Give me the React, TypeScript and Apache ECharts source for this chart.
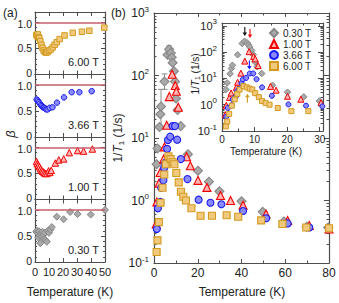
import React, { useEffect, useRef } from "react";
import * as echarts from "echarts";

const FONT = '"Liberation Sans", Arial, Helvetica, sans-serif';
const INK = "#222222";
const FRAME = "#4d4d4d";

// ---- fields ----
const fieldNames = ["0.30 T", "1.00 T", "3.66 T", "6.00 T"];
const panelOrder = ["6.00 T", "3.66 T", "1.00 T", "0.30 T"]; // (a) top to bottom

// ---- (a) stretching exponent beta vs temperature (K) ----
const beta600 = [[1.0,0.76],[1.5,0.74],[2.0,0.77],[2.5,0.72],[3.1,0.70],[3.8,0.64],[4.6,0.57],[5.4,0.51],[6.2,0.46],[7.1,0.43],[8.0,0.42],[9.0,0.43],[10.0,0.46],[11.2,0.48],[12.6,0.52],[14.0,0.57],[15.5,0.62],[17.6,0.68],[21.1,0.75],[27.0,0.80],[33.5,0.82],[38.8,0.84],[49.5,0.90]];
const beta366 = [[1.2,0.72],[2.0,0.70],[2.8,0.67],[3.5,0.64],[4.3,0.61],[5.0,0.59],[5.8,0.57],[6.5,0.56],[7.3,0.55],[8.1,0.53],[9.0,0.53],[10.5,0.56],[12.5,0.57],[15.7,0.66],[20.7,0.76],[26.2,0.86],[31.7,0.86],[40.5,0.88]];
const beta100 = [[1.1,0.73],[1.7,0.69],[2.4,0.66],[3.2,0.63],[4.0,0.59],[4.8,0.56],[5.6,0.54],[6.5,0.52],[7.3,0.50],[8.5,0.50],[9.7,0.55],[10.6,0.52],[11.6,0.56],[14.5,0.70],[17.0,0.76],[20.5,0.78],[24.5,0.90],[30.4,0.94],[34.7,0.93],[41.0,0.97]];
const beta030 = [[1.0,0.58],[1.5,0.60],[2.0,0.55],[2.4,0.47],[2.8,0.59],[3.3,0.52],[3.8,0.36],[4.3,0.56],[4.8,0.49],[5.3,0.58],[5.9,0.52],[6.5,0.44],[7.0,0.56],[7.6,0.42],[8.5,0.39],[9.2,0.60],[10.0,0.56],[11.0,0.62],[12.0,0.67],[15.6,0.87],[20.4,0.82],[25.1,0.96],[30.4,0.92],[39.8,0.91],[50.0,1.0]];

// ---- (b) 1/T1 (1/s) vs temperature (K) ----
const rate030 = [[1.2,3.8],[1.6,6.8],[2.5,15],[2.9,24],[3.2,32],[4.8,80],[6.2,215],[6.9,262],[7.7,230],[8.1,195],[8.5,160],[9.1,117],[9.6,80],[10.1,43],[10.8,28],[12.2,15.5],[15.5,5.5],[20.1,3.0],[25.1,2.0],[29.9,1.4],[40.0,0.97],[49.7,0.66],[59.4,0.46],[69.8,0.38],[79.6,0.37]];
const rate100 = [[1.0,0.42],[1.3,0.95],[2.3,1.9],[2.8,2.8],[4.4,4.6],[4.8,7.2],[5.8,16],[7.0,46],[8.3,105],[9.7,69],[10.2,56],[11.1,31],[14.9,5.0],[16.6,3.6],[20.1,2.1],[24.2,1.62],[30.4,1.2],[35.0,1.0],[40.7,0.84],[51.2,0.61],[61.1,0.48],[71.0,0.40],[80.0,0.35]];
const rate366 = [[1.3,0.35],[1.8,0.75],[2.9,0.95],[3.3,1.6],[4.3,2.1],[4.6,3.3],[5.2,4.0],[6.0,6.7],[6.4,9.3],[7.4,10.5],[8.5,15.5],[9.6,15.5],[10.6,9.4],[12.3,4.6],[15.3,2.2],[20.4,1.03],[25.8,0.92],[30.8,0.87],[40.7,0.68],[51.3,0.52],[61.1,0.43],[71.0,0.37],[80.2,0.33]];
const rate600 = [[1.2,0.15],[1.6,0.23],[2.2,0.45],[3.0,0.92],[3.9,1.6],[4.7,2.6],[5.4,3.8],[6.6,5.1],[7.6,4.6],[8.5,4.1],[9.3,3.8],[10.2,2.75],[11.3,1.95],[12.3,1.38],[13.4,1.15],[14.6,1.0],[17.1,0.75],[21.3,0.57],[26.5,0.57],[33.2,0.58],[38.5,0.55],[49.0,0.48],[58.7,0.42],[69.6,0.37],[80.0,0.36]];

// error bars of 0.30 T: [T, low, high]
const err030 = [[6.9,228,298],[4.8,60,106],[3.2,15,60]];

// inset arrows (T, 1/T1), pointing down except 6.00 T (up)
const arrowT = [7.0, 8.6, 8.4, 7.8];
const arrowV = [620, 520, 33, 1.75];
const arrowUp = [false, false, false, true];
const arrowColor = ["#111111", "#ee1111", "#1a1aee", "#d39a20"];

// beta reference line
const betaRef = 1.0;
const betaMajor = [0, 0.5, 1.0];
const betaMinor = [0.1, 0.2, 0.3, 0.4, 0.6, 0.7, 0.8, 0.9, 1.1];

const betaByField: Record<string, number[][]> = { "6.00 T": beta600, "3.66 T": beta366, "1.00 T": beta100, "0.30 T": beta030 };
const rateByField: Record<string, number[][]> = { "0.30 T": rate030, "1.00 T": rate100, "3.66 T": rate366, "6.00 T": rate600 };

const STY: Record<string, any> = {
  "0.30 T": { symbol: "diamond", color: "#a9a9a9", border: "#878787", main: 9, inset: 6.5, left: 7 },
  "1.00 T": { symbol: "triangle", color: "#ffb3b3", border: "#f20000", main: 8, inset: 6, left: 6.5 },
  "3.66 T": { symbol: "circle", color: "#8a8aff", border: "#1a1aee", main: 7, inset: 5, left: 5.5 },
  "6.00 T": { symbol: "rect", color: "#f1c97c", border: "#d39a20", main: 7, inset: 5, left: 5.5 },
};

const minorLogs = (lo: number, hi: number) => {
  const out: number[] = [];
  for (let d = Math.floor(lo); d < hi; d++) {
    for (let k = 2; k <= 9; k++) {
      const v = d + Math.log10(k);
      if (v > lo && v < hi) out.push(v);
    }
  }
  return out;
};

const logLabel = (v: number) => {
  const e = Math.log10(v);
  const r = Math.round(e);
  if (Math.abs(e - r) > 1e-6) return "";
  return "10{s|" + r + "}";
};

const axisLine = { show: true, onZero: false, lineStyle: { color: FRAME, width: 1.2 } };
const tickLine = { color: FRAME, width: 1 };

function mkX(gridIndex: number, position: string, min: number, max: number, interval: number, label: boolean, fontSize: number, margin: number, minorSplit: number) {
  return {
    type: "value", gridIndex, position, min, max, interval,
    axisLine,
    axisTick: { show: true, inside: true, length: 4, lineStyle: tickLine },
    minorTick: minorSplit ? { show: true, splitNumber: minorSplit, length: 2.5, lineStyle: tickLine } : { show: false },
    axisLabel: label
      ? { show: true, fontSize, fontFamily: FONT, color: INK, margin, formatter: (v: number) => (Math.abs(v % interval) < 1e-9 ? String(v) : "") }
      : { show: false },
    splitLine: { show: false },
  };
}

function mkLog(gridIndex: number, position: string, max: number, label: boolean, fontSize: number, margin: number) {
  return {
    type: "log", logBase: 10, gridIndex, position, min: 0.1, max,
    axisLine,
    axisTick: { show: true, inside: true, length: 5, lineStyle: tickLine },
    minorTick: { show: false },
    axisLabel: label
      ? {
          show: true, fontSize, fontFamily: FONT, color: INK, margin, formatter: logLabel,
          rich: { s: { fontSize: Math.round(fontSize * 0.7), fontFamily: FONT, color: INK, padding: [0, 0, Math.round(fontSize * 0.7), 0] } },
        }
      : { show: false },
    splitLine: { show: false },
  };
}

function mkMinorLog(gridIndex: number, position: string, lo: number, hi: number) {
  return {
    type: "value", gridIndex, position, min: lo, max: hi,
    axisLine: { show: false, onZero: false },
    axisTick: { show: true, inside: true, length: 2.5, customValues: minorLogs(lo, hi), lineStyle: tickLine },
    minorTick: { show: false },
    axisLabel: { show: false },
    splitLine: { show: false },
  };
}

function mkBetaY(gridIndex: number, position: string, label: boolean) {
  return {
    type: "value", gridIndex, position, min: 0, max: 1.2,
    axisLine,
    axisTick: { show: true, inside: true, length: 4, customValues: betaMajor, lineStyle: tickLine },
    minorTick: { show: false },
    axisLabel: label
      ? {
          show: true, customValues: betaMajor, fontSize: 10.5, fontFamily: FONT, color: INK, margin: 3,
          formatter: (v: number) => (v === 0 ? "{z|0}" : v === 1 ? "{o|1.0}" : v.toFixed(1)),
          rich: {
            z: { fontSize: 10.5, fontFamily: FONT, color: INK, padding: [0, 0, 3, 0] },
            o: { fontSize: 10.5, fontFamily: FONT, color: INK, padding: [3, 0, 0, 0] },
          },
        }
      : { show: false },
    splitLine: { show: false },
  };
}

function mkBetaMinor(gridIndex: number, position: string) {
  return {
    type: "value", gridIndex, position, min: 0, max: 1.2,
    axisLine: { show: false, onZero: false },
    axisTick: { show: true, inside: true, length: 2, customValues: betaMinor, lineStyle: tickLine },
    minorTick: { show: false },
    axisLabel: { show: false },
    splitLine: { show: false },
  };
}

function buildOption() {
  const grids: any[] = [];
  const xAxes: any[] = [];
  const yAxes: any[] = [];
  const series: any[] = [];
  const graphics: any[] = [];

  // ----- (a) four stacked panels -----
  const pTop = 12;
  const pH = 62.5;
  panelOrder.forEach((f, i) => {
    grids.push({ left: 35, top: pTop + i * pH, width: 70, height: pH, containLabel: false });
    xAxes.push(mkX(i, "bottom", 0, 50, 10, i === 3, 11, 4, 0));
    xAxes.push(mkX(i, "top", 0, 50, 10, false, 11, 4, 0));
    yAxes.push(mkBetaY(i, "left", true));
    yAxes.push(mkBetaY(i, "right", false));
    yAxes.push(mkBetaMinor(i, "left"));
    yAxes.push(mkBetaMinor(i, "right"));
    const s = STY[f];
    series.push({
      name: f, type: "scatter", xAxisIndex: 2 * i, yAxisIndex: 4 * i,
      data: betaByField[f], symbol: s.symbol, symbolSize: s.left,
      itemStyle: { color: s.color, borderColor: s.border, borderWidth: 1, opacity: 1 },
      markLine: {
        silent: true, symbol: ["none", "none"], label: { show: false },
        lineStyle: { color: "#c65f6c", width: 1.6, type: "solid" },
        data: [{ yAxis: betaRef }],
      },
      z: 3,
    });
    graphics.push({
      type: "text", x: 99, y: pTop + (i + 1) * pH - 12.5,
      style: { text: f, fontSize: 11, fontFamily: FONT, fill: INK, align: "right", verticalAlign: "middle" },
    });
  });

  // ----- (b) main panel -----
  const gMain = 4;
  grids.push({ left: 154, top: 13, width: 175, height: 250 });
  xAxes.push(mkX(gMain, "bottom", 0, 80, 20, true, 12, 4, 2)); // 8
  xAxes.push(mkX(gMain, "top", 0, 80, 20, false, 12, 4, 2)); // 9
  yAxes.push(mkLog(gMain, "left", 1000, true, 12, 5)); // 16
  yAxes.push(mkLog(gMain, "right", 1000, false, 12, 5)); // 17
  yAxes.push(mkMinorLog(gMain, "left", -1, 3)); // 18
  yAxes.push(mkMinorLog(gMain, "right", -1, 3)); // 19

  series.push({
    type: "custom", xAxisIndex: 8, yAxisIndex: 16, data: err030, z: 1, silent: true,
    encode: { x: 0, y: [1, 2] },
    renderItem: (params: any, api: any) => {
      const t = api.value(0);
      const p1 = api.coord([t, api.value(1)]);
      const p2 = api.coord([t, api.value(2)]);
      const w = 3;
      const st = { stroke: "#8c8c8c", lineWidth: 1 };
      return {
        type: "group",
        children: [
          { type: "line", shape: { x1: p1[0], y1: p1[1], x2: p2[0], y2: p2[1] }, style: st },
          { type: "line", shape: { x1: p1[0] - w, y1: p1[1], x2: p1[0] + w, y2: p1[1] }, style: st },
          { type: "line", shape: { x1: p2[0] - w, y1: p2[1], x2: p2[0] + w, y2: p2[1] }, style: st },
        ],
      };
    },
  });
  fieldNames.forEach((f) => {
    const s = STY[f];
    series.push({
      name: f, type: "scatter", xAxisIndex: 8, yAxisIndex: 16,
      data: rateByField[f], symbol: s.symbol, symbolSize: s.main,
      itemStyle: { color: s.color, borderColor: s.border, borderWidth: 1.1, opacity: 1 },
      z: 3,
    });
  });

  // ----- inset -----
  const gIn = 5;
  const insetMaxT = 31;
  const insetMaxV = 1300;
  grids.push({ left: 222, top: 23, width: 101, height: 108, show: true, backgroundColor: "#ffffff", borderWidth: 0 });
  xAxes.push(mkX(gIn, "bottom", 0, insetMaxT, 10, true, 10, 3, 2)); // 10
  xAxes.push(mkX(gIn, "top", 0, insetMaxT, 10, false, 10, 3, 2)); // 11
  yAxes.push(mkLog(gIn, "left", insetMaxV, true, 11, 5)); // 20
  yAxes.push(mkLog(gIn, "right", insetMaxV, false, 11, 5)); // 21
  yAxes.push(mkMinorLog(gIn, "left", -1, Math.log10(insetMaxV))); // 22
  yAxes.push(mkMinorLog(gIn, "right", -1, Math.log10(insetMaxV))); // 23

  fieldNames.forEach((f, k) => {
    const s = STY[f];
    series.push({
      name: f, type: "scatter", xAxisIndex: 10, yAxisIndex: 20,
      data: rateByField[f].filter((d) => d[0] <= insetMaxT), symbol: s.symbol, symbolSize: s.inset,
      itemStyle: { color: s.color, borderColor: s.border, borderWidth: 1, opacity: 1 },
      markPoint: {
        silent: true,
        symbol: "path://M3,0 L5,0 L5,10 L8,10 L4,16 L0,10 L3,10 Z",
        symbolSize: [4.5, 9],
        label: { show: false },
        itemStyle: { color: arrowColor[k], borderWidth: 0 },
        data: [{ coord: [arrowT[k], arrowV[k]], symbolRotate: arrowUp[k] ? 180 : 0 }],
      },
      z: 4,
    });
  });

  // ----- texts -----
  graphics.push(
    { type: "text", x: 3, y: 13, style: { text: "(a)", fontSize: 12, fontFamily: FONT, fill: INK, align: "left", verticalAlign: "middle" } },
    { type: "text", x: 111, y: 13, style: { text: "(b)", fontSize: 12, fontFamily: FONT, fill: INK, align: "left", verticalAlign: "middle" } },
    { type: "text", x: 10, y: 134, rotation: Math.PI / 2, style: { text: "β", fontSize: 13, fontStyle: "italic", fontFamily: FONT, fill: INK, align: "center", verticalAlign: "middle" } },
    { type: "text", x: 70, y: 292, style: { text: "Temperature (K)", fontSize: 12, fontFamily: FONT, fill: INK, align: "center", verticalAlign: "middle" } },
    { type: "text", x: 242, y: 292, style: { text: "Temperature (K)", fontSize: 12, fontFamily: FONT, fill: INK, align: "center", verticalAlign: "middle" } },
    { type: "text", x: 266, y: 151, style: { text: "Temperature (K)", fontSize: 10, fontFamily: FONT, fill: INK, align: "center", verticalAlign: "middle" } },
    {
      type: "text", x: 118, y: 138, rotation: Math.PI / 2,
      style: {
        text: "1/{i|T}{sub|1} (1/s)", fontSize: 12, fontFamily: FONT, fill: INK, align: "center", verticalAlign: "middle",
        rich: { i: { fontSize: 12, fontStyle: "italic", fontFamily: FONT, fill: INK }, sub: { fontSize: 8, fontFamily: FONT, fill: INK, padding: [6, 0, 0, 0] } },
      },
    },
    {
      type: "text", x: 195, y: 74, rotation: Math.PI / 2,
      style: {
        text: "1/{i|T}{sub|1} (1/s)", fontSize: 10, fontFamily: FONT, fill: INK, align: "center", verticalAlign: "middle",
        rich: { i: { fontSize: 10, fontStyle: "italic", fontFamily: FONT, fill: INK }, sub: { fontSize: 7, fontFamily: FONT, fill: INK, padding: [5, 0, 0, 0] } },
      },
    }
  );

  return {
    animation: false,
    backgroundColor: "#ffffff",
    textStyle: { fontFamily: FONT },
    grid: grids,
    xAxis: xAxes,
    yAxis: yAxes,
    legend: {
      data: fieldNames, orient: "vertical", left: 269, top: 28, itemWidth: 8, itemHeight: 8, itemGap: 1,
      padding: 0, selectedMode: false,
      textStyle: { fontSize: 10, fontFamily: FONT, color: INK },
    },
    series,
    graphic: graphics,
  };
}

export default function App() {
  const ref = useRef<HTMLDivElement>(null);
  useEffect(() => {
    if (!ref.current) return;
    const chart = echarts.init(ref.current, undefined, { renderer: "svg" });
    chart.setOption(buildOption() as any);
    return () => chart.dispose();
  }, []);
  return <div ref={ref} style={{ position: "fixed", left: 0, top: 0, width: 339, height: 303, background: "#fff" }} />;
}
